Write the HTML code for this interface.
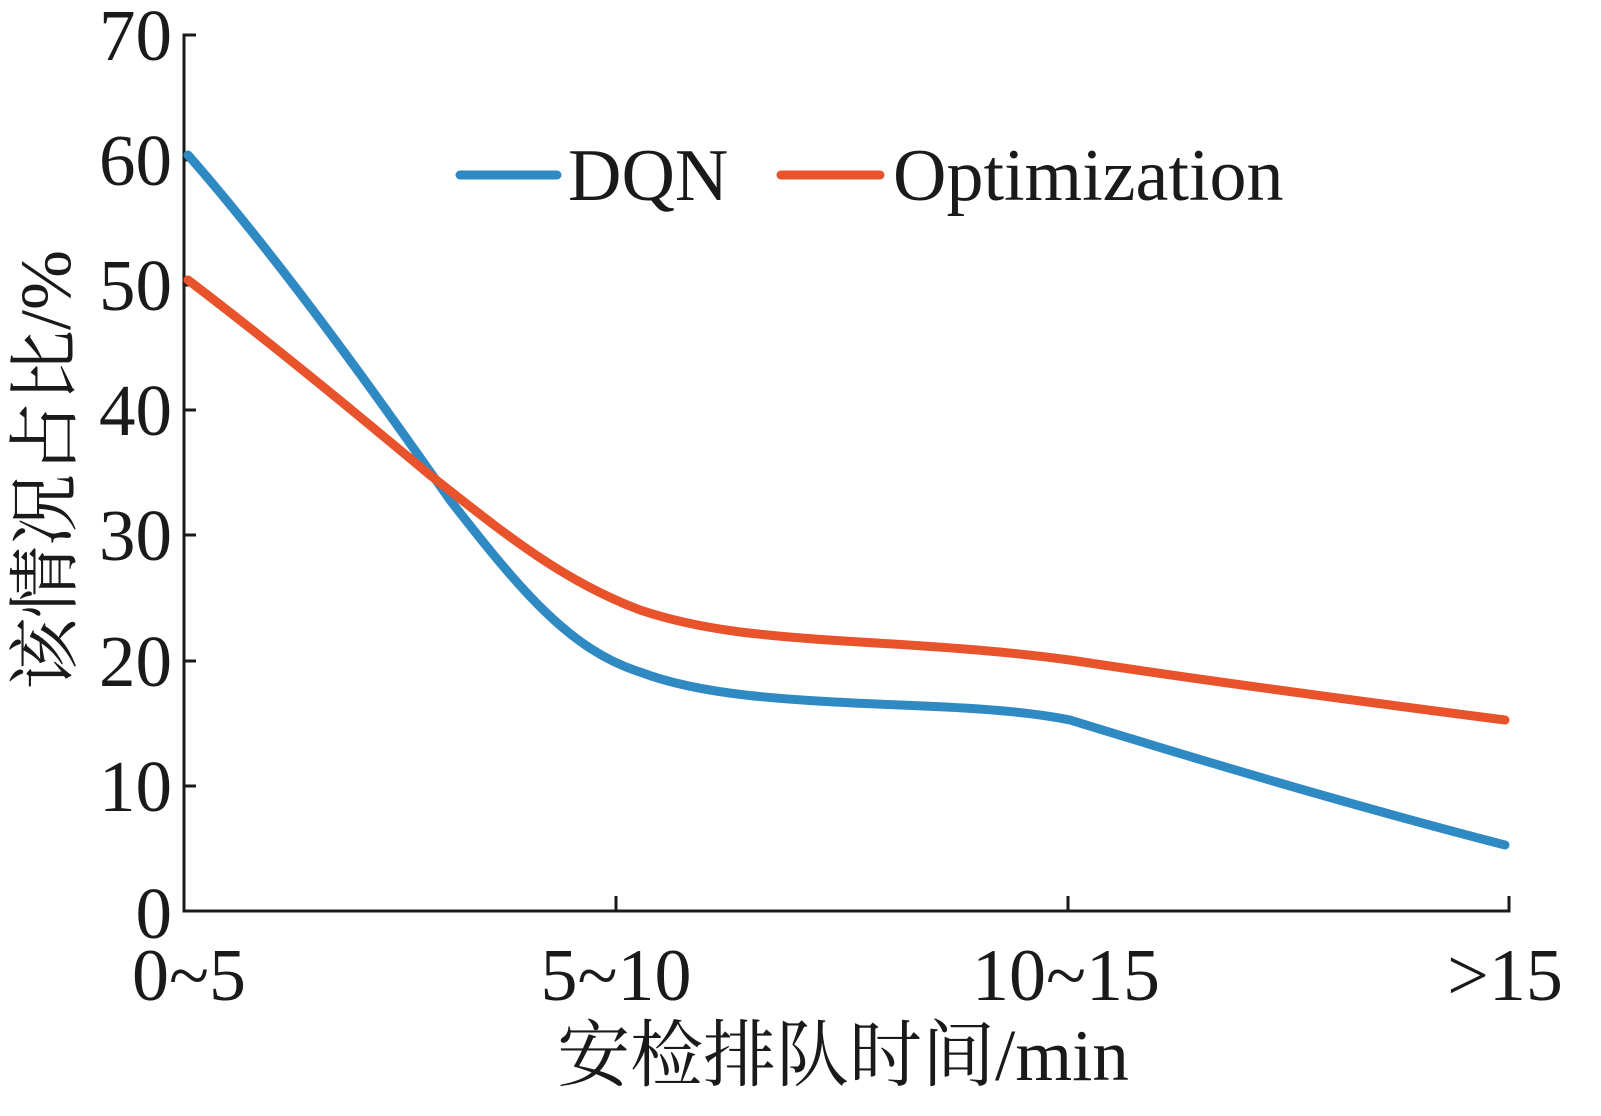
<!DOCTYPE html>
<html><head><meta charset="utf-8"><style>
html,body{margin:0;padding:0;background:#fff;}
svg{display:block;}
text{font-family:"Liberation Serif","Noto Serif CJK SC",serif;fill:#1a1a1a;}
</style></head><body>
<svg width="1601" height="1116" viewBox="0 0 1601 1116" xmlns="http://www.w3.org/2000/svg">
<g stroke="#1a1a1a" stroke-width="3" fill="none">
<path d="M196 35 H184 V911 H1509 V896"/>
<path d="M184 160 H196 M184 285 H196 M184 410 H196 M184 535 H196 M184 661 H196 M184 786 H196"/>
<path d="M616 911 V896 M1068 911 V896"/>
</g>
<g font-size="73" text-anchor="end">
<text x="172" y="60">70</text>
<text x="172" y="185">60</text>
<text x="172" y="310">50</text>
<text x="172" y="435">40</text>
<text x="172" y="560">30</text>
<text x="172" y="686">20</text>
<text x="172" y="811">10</text>
<text x="172" y="938">0</text>
</g>
<g font-size="74" text-anchor="middle">
<text x="189" y="1000">0~5</text>
<text x="616" y="1000">5~10</text>
<text x="1066" y="1000">10~15</text>
<text x="1505" y="1000">&gt;15</text>
</g>
<text x="843" y="1080" font-size="73" text-anchor="middle">安检排队时间/min</text>
<text transform="translate(70,470) rotate(-90)" font-size="72" text-anchor="middle">该情况占比/%</text>
<g fill="none" stroke-width="9" stroke-linecap="round">
<path stroke="#2f8ac4" d="M188 155 C280 260 380 400 450 500 C520 590 570 650 640 672 C700 695 780 700 900 705 C980 708 1030 712 1070 720 C1200 760 1350 805 1505 845"/>
<path stroke="#e8532b" d="M188 280 C280 350 370 425 430 475 C500 530 560 580 640 610 C700 630 760 636 860 642 C960 648 1010 652 1070 660 C1200 680 1350 700 1505 720"/>
<path stroke="#2f8ac4" d="M460 175 H557"/>
<path stroke="#e8532b" d="M781 175 H880"/>
</g>
<text x="568" y="200" font-size="74">DQN</text>
<text x="893" y="200" font-size="74">Optimization</text>
</svg>
</body></html>
